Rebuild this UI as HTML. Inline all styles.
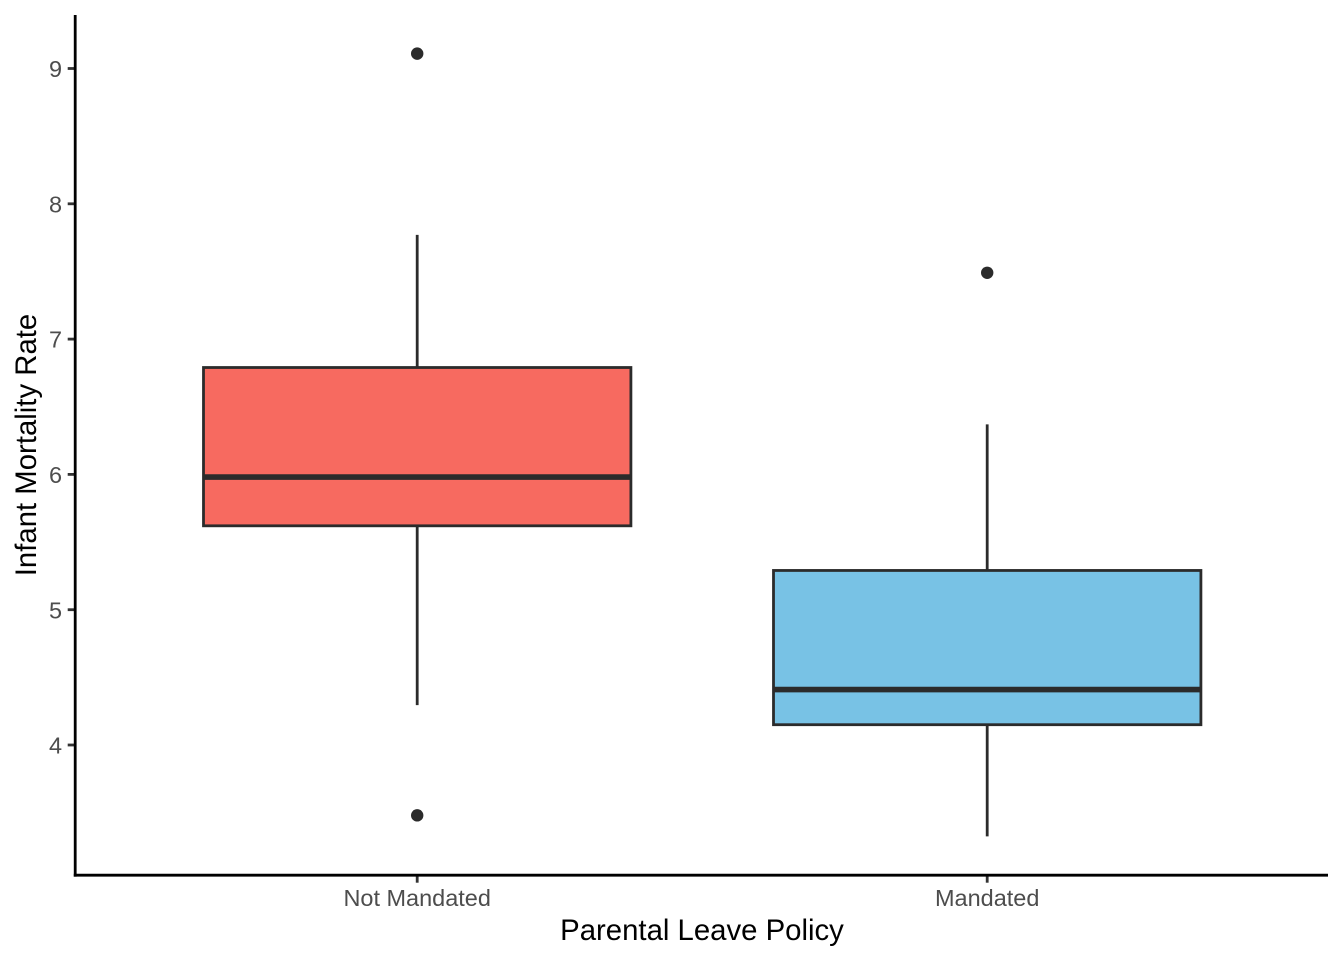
<!DOCTYPE html>
<html lang="en">
<head>
<meta charset="utf-8">
<title>Infant Mortality Rate by Parental Leave Policy</title>
<style>
html,body{margin:0;padding:0;background:#fff;width:1344px;height:960px;overflow:hidden}
svg{display:block}
text{font-family:"Liberation Sans",Arial,sans-serif}
</style>
</head>
<body>
<svg id="chart" xmlns="http://www.w3.org/2000/svg" width="1344" height="960" viewBox="0 0 1344 960"></svg>
<script>
const categories = ['Not Mandated', 'Mandated'];
const fills = ['#F76A60', '#78C2E5'];
const whiskerLow = [4.295, 3.325];
const q1 = [5.62, 4.15];
const median = [5.98, 4.41];
const q3 = [6.79, 5.29];
const whiskerHigh = [7.77, 6.37];
const outliers = [[9.11, 3.48], [7.49]];
const yTicks = [4, 5, 6, 7, 8, 9];
const xAxisTitle = 'Parental Leave Policy';
const yAxisTitle = 'Infant Mortality Rate';

const svg = document.getElementById('chart');
const NS = 'http://www.w3.org/2000/svg';
const DARK = '#2b2b2b';
const TICK_TEXT = '#4d4d4d';
const plotLeft = 75.2, plotRight = 1328, plotTop = 15, plotBottom = 875.2;

function yScale(v) { return 745 - (v - 4) * 135.3; }
function xScale(i) { return 417.2 + i * 570; }
const boxHalf = 213.7;

function add(tag, attrs, text) {
  const el = document.createElementNS(NS, tag);
  for (const k in attrs) el.setAttribute(k, attrs[k]);
  if (text !== undefined) el.textContent = text;
  svg.appendChild(el);
  return el;
}
function drawLine(x1, y1, x2, y2, stroke, w) {
  return add('line', { x1, y1, x2, y2, stroke, 'stroke-width': w });
}

const bg = add('rect', { x: 0, y: 0, width: 1344, height: 960, fill: '#fff' });



categories.forEach((cat, i) => {
  const cx = xScale(i);
  const slug = cat.toLowerCase().replace(/\s+/g, '-');

  const wh = drawLine(cx, yScale(q3[i]), cx, yScale(whiskerHigh[i]), DARK, 2.8);
  
  

  const wl = drawLine(cx, yScale(q1[i]), cx, yScale(whiskerLow[i]), DARK, 2.8);
  
  

  const box = add('rect', {
    x: cx - boxHalf, y: yScale(q3[i]), width: boxHalf * 2, height: yScale(q1[i]) - yScale(q3[i]),
    fill: fills[i], stroke: DARK, 'stroke-width': 2.8
  });
  
  

  const med = drawLine(cx - boxHalf, yScale(median[i]), cx + boxHalf, yScale(median[i]), DARK, 5.6);
  
  

  outliers[i].forEach(v => {
    const dot = add('circle', { cx, cy: yScale(v), r: 6.2, fill: DARK });
    
    
  });

  const t = drawLine(cx, plotBottom, cx, plotBottom + 7.5, '#333', 2.8);
  
  

  const lab = add('text', { x: cx, y: 906, 'text-anchor': 'middle', 'font-size': 23.47, fill: TICK_TEXT }, cat);
  
  
});

yTicks.forEach(v => {
  const t = drawLine(plotLeft - 7.5, yScale(v), plotLeft, yScale(v), '#333', 2.8);
  
  

  const lab = add('text', { x: 62, y: yScale(v) + 8.6, 'text-anchor': 'end', 'font-size': 23.47, fill: TICK_TEXT }, String(v));
  
  
});

const yAxis = drawLine(plotLeft, plotTop, plotLeft, plotBottom + 1.4, '#000', 2.8);



const xAxis = drawLine(plotLeft - 1.4, plotBottom, plotRight, plotBottom, '#000', 2.8);



const xTitle = add('text', { x: 702, y: 940, 'text-anchor': 'middle', 'font-size': 29.33, fill: '#000' }, xAxisTitle);



const yTitle = add('text', { x: 0, y: 0, 'text-anchor': 'middle', 'font-size': 29.33, fill: '#000', transform: 'translate(36 445) rotate(-90)' }, yAxisTitle);


</script>
</body>
</html>
